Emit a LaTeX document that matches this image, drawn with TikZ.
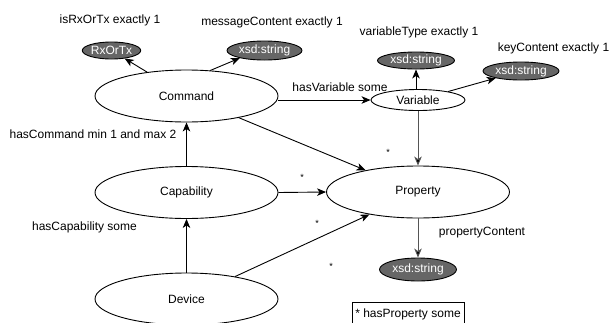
\documentclass[tikz,border=0pt]{standalone}
\usepackage{fontspec}
\setmainfont{Liberation Sans}
\usetikzlibrary{arrows.meta,shapes.geometric}
\definecolor{litfill}{HTML}{666666}
\definecolor{grayline}{HTML}{555555}
\begin{document}
\begin{tikzpicture}[x=1pt,y=-1pt,
  every node/.style={font=\fontsize{12}{14}\selectfont, inner sep=0pt},
  cls/.style={ellipse, draw=black, line width=0.9pt, fill=white, minimum width=183pt, minimum height=52pt},
  lit/.style={ellipse, draw=black, line width=0.9pt, fill=litfill, text=white},
  arr/.style={draw=black, line width=0.9pt, -{Stealth[length=9pt,width=7.5pt,inset=2.5pt]}},
  garr/.style={arr, draw=grayline, -{Stealth[length=9pt,width=7.5pt,inset=2.5pt,fill=black]}},
  lbl/.style={text=black},
  star/.style={font=\fontsize{9}{10}\selectfont}]
\useasboundingbox (0,0) rectangle (611,322);
\clip (0,0) rectangle (611,322);
% class ellipses
\node[cls] (cmd) at (186.5,96) {Command};
\node[cls] (cap) at (186.5,192.5) {Capability};
\node[cls] (dev) at (186.5,299) {Device};
\node[cls] (prop) at (418,192) {Property};
\node[cls, minimum width=94pt, minimum height=21pt] (var) at (418,100) {Variable};
% literal ellipses
\node[lit, minimum width=53pt, minimum height=17pt] (rx) at (111.5,50.5) {RxOrTx};
\node[lit, minimum width=75pt, minimum height=19pt] (msg) at (264.5,50.5) {xsd:string};
\node[lit, minimum width=77pt, minimum height=17pt] (vt) at (416,60.5) {xsd:string};
\node[lit, minimum width=76pt, minimum height=18pt] (kc) at (521,71) {xsd:string};
\node[lit, minimum width=77pt, minimum height=23pt] (pc) at (418,269.5) {xsd:string};
% connectors
\draw[arr] (cmd) -- (rx);
\draw[arr] (cmd.47) -- (msg.197);
\draw[arr] (cmd.east |- var.west) -- (var.west);
\draw[arr] (cmd) -- (prop);
\draw[arr] (var.north -| vt.south) -- (vt.south);
\draw[arr] (var) -- (kc);
\draw[garr] (var.south) -- (prop.north);
\draw[arr] (cap.north) -- (cmd.south);
\draw[arr] (cap.east) -- (prop.west);
\draw[arr] (dev.north) -- (cap.south);
\draw[arr] (dev) -- (prop);
\draw[garr] (prop.south) -- (pc.north);
% labels
\node[lbl] (l1) at (110,20) {isRxOrTx exactly 1};
\node[lbl] (l2) at (272,22) {messageContent exactly 1};
\node[lbl] (l3) at (419,32) {variableType exactly 1};
\node[lbl] (l4) at (553.5,48) {keyContent exactly 1};
\node[lbl] (l5) at (340,87) {hasVariable some};
\node[lbl] (l6) at (93,134) {hasCommand min 1 and max 2};
\node[lbl] (l7) at (84.5,227) {hasCapability some};
\node[lbl] (l8) at (482,233) {propertyContent};
% stars
\node[star] (s1) at (388,152) {*};
\node[star] (s2) at (302,177) {*};
\node[star] (s3) at (317,223) {*};
\node[star] (s4) at (331,266) {*};
% legend box
\node[draw=black, line width=0.8pt, minimum width=112pt, minimum height=30pt, anchor=north west, text depth=0pt] (leg) at (352,302) {};
\node[lbl] (legt) at (408,314) {* hasProperty some};
\end{tikzpicture}
\end{document}
